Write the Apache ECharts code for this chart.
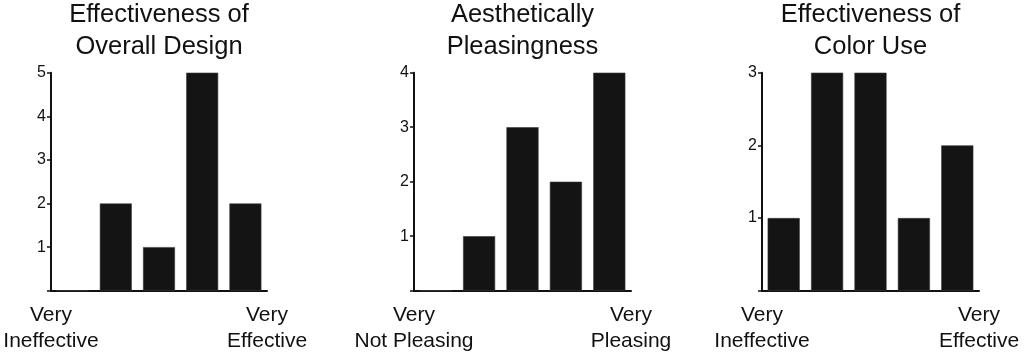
<!DOCTYPE html>
<html>
<head>
<meta charset="utf-8">
<script src="https://cdn.jsdelivr.net/npm/echarts@6/dist/echarts.min.js"></script>
<style>
html,body{margin:0;padding:0;background:#fff;}
#chart{width:1024px;height:356px;}
</style>
</head>
<body>
<div id="chart"></div>
<script>
// Data
const categories = ['1', '2', '3', '4', '5'];
const overallDesignValues = [0, 2, 1, 5, 2];
const pleasingValues = [0, 1, 3, 2, 4];
const colorUseValues = [1, 3, 3, 1, 2];
const panelTitles = ['Effectiveness of\nOverall Design', 'Aesthetically\nPleasingness', 'Effectiveness of\nColor Use'];
const leftLabels = ['Very\nIneffective', 'Very\nNot Pleasing', 'Very\nIneffective'];
const rightLabels = ['Very\nEffective', 'Very\nPleasing', 'Very\nEffective'];
const yMaxValues = [5, 4, 3];

const seriesValues = [overallDesignValues, pleasingValues, colorUseValues];
const FONT = '"Liberation Sans", Arial, sans-serif';
const INK = '#111111';

const grids = [
  {left: 51, right: 757, top: 72.7, bottom: 65.3},
  {left: 414, right: 393, top: 72.7, bottom: 65.3},
  {left: 762, right: 45, top: 72.7, bottom: 65.3}
];

const option = {
  backgroundColor: '#ffffff',
  animation: false,
  title: grids.map((g, i) => ({
    text: panelTitles[i],
    left: (g.left + (1024 - g.right)) / 2,
    top: -1,
    textAlign: 'center',
    padding: 0,
    textStyle: {fontFamily: FONT, fontSize: 25.5, fontWeight: 'normal', color: INK, lineHeight: 32}
  })),
  grid: grids.map(g => Object.assign({containLabel: false}, g)),
  xAxis: [].concat(
    grids.map((g, i) => ({
      type: 'category',
      gridIndex: i,
      data: categories,
      position: 'bottom',
      boundaryGap: true,
      axisLine: {show: true, lineStyle: {color: INK, width: 2}},
      axisTick: {show: false},
      axisLabel: {show: false},
      splitLine: {show: false}
    })),
    grids.map((g, i) => ({
      type: 'value',
      gridIndex: i,
      position: 'bottom',
      min: 0,
      max: 1,
      interval: 1,
      axisLine: {show: false},
      axisTick: {show: false},
      splitLine: {show: false},
      axisLabel: {
        show: true,
        showMinLabel: true,
        showMaxLabel: true,
        margin: 12,
        fontFamily: FONT,
        fontSize: 21,
        lineHeight: 26,
        color: INK,
        align: 'center',
        formatter: v => (v === 0 ? leftLabels[i] : rightLabels[i])
      }
    }))
  ),
  yAxis: grids.map((g, i) => ({
    type: 'value',
    gridIndex: i,
    min: 0,
    max: yMaxValues[i],
    interval: 1,
    axisLine: {show: true, lineStyle: {color: INK, width: 2}},
    axisTick: {show: true, inside: false, length: 4, lineStyle: {color: INK, width: 1.5}},
    splitLine: {show: false},
    axisLabel: {
      margin: 5,
      fontFamily: FONT,
      fontSize: 16,
      color: INK,
      formatter: v => (v === 0 ? '' : String(v))
    }
  })),
  series: seriesValues.map((vals, i) => ({
    type: 'bar',
    xAxisIndex: i,
    yAxisIndex: i,
    data: vals,
    barCategoryGap: '26%',
    itemStyle: {color: '#141414', borderColor: '#3a3a3a', borderWidth: 0.6},
    emphasis: {disabled: true}
  }))
};

const chart = echarts.init(document.getElementById('chart'), null, {renderer: 'canvas'});
chart.setOption(option);
</script>
</body>
</html>
